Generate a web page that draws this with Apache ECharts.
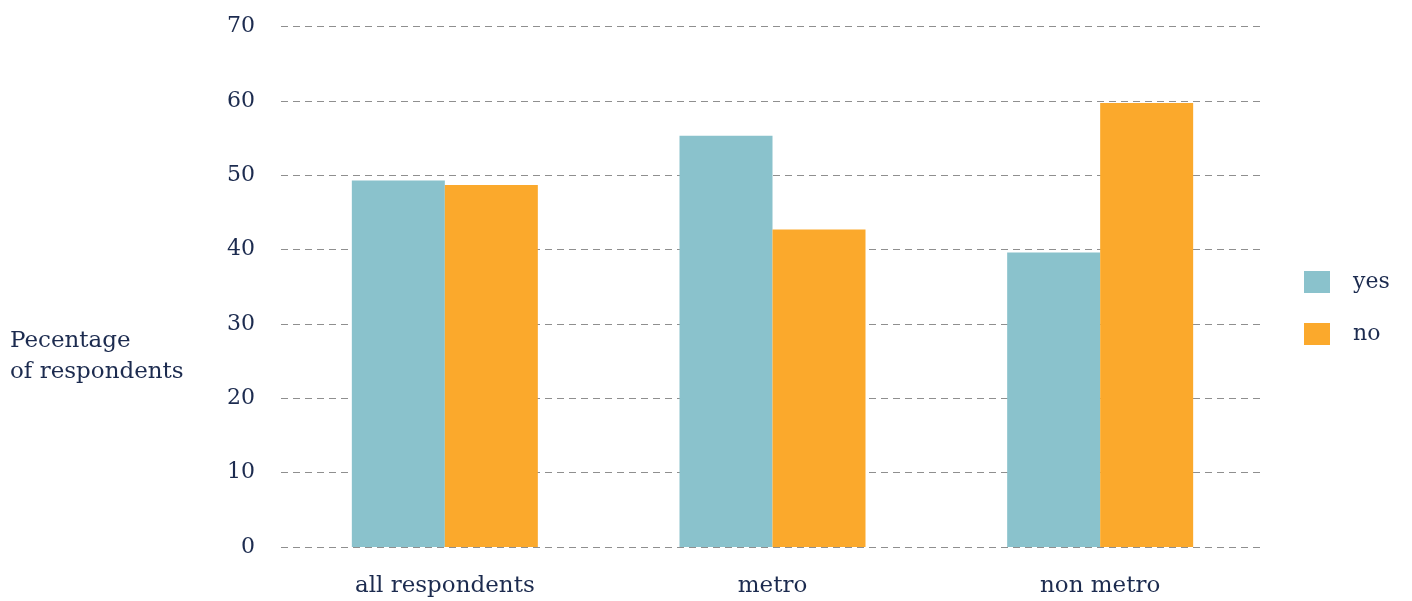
<!DOCTYPE html>
<html>
<head>
<meta charset="utf-8">
<script src="https://cdn.jsdelivr.net/npm/echarts@6/dist/echarts.min.js"></script>
<style>
html,body{margin:0;padding:0;background:#fff;}
#chart{width:1412px;height:601px;}
</style>
</head>
<body>
<div id="chart"></div>
<script>
const categories = ['all respondents', 'metro', 'non metro'];
const yesValues = [49.3, 55.3, 39.6];
const noValues = [48.7, 42.7, 59.7];
const seriesNames = ['yes', 'no'];
const axisTitle = 'Pecentage\nof respondents';

const textColor = '#1c2b4f';
const font = '"DejaVu Serif", serif';

const chart = echarts.init(document.getElementById('chart'));
chart.setOption({
  animation: false,
  backgroundColor: '#ffffff',
  grid: { left: 281, right: 148, top: 26.5, bottom: 54, containLabel: false },
  legend: {
    orient: 'vertical',
    left: 1299,
    top: 266,
    itemWidth: 26,
    itemHeight: 22,
    itemGap: 30,
    icon: 'rect',
    data: seriesNames,
    textStyle: { color: textColor, fontFamily: font, fontSize: 22, width: 44, align: 'center', padding: [0, 0, 0, 18] }
  },
  graphic: [{
    type: 'text',
    left: 10,
    top: 326,
    style: { text: axisTitle, fill: textColor, font: '23px ' + font, lineHeight: 31 }
  }],
  xAxis: {
    type: 'category',
    data: categories,
    axisLine: { show: false },
    axisTick: { show: false },
    axisLabel: { color: textColor, fontFamily: font, fontSize: 23, margin: 28 }
  },
  yAxis: {
    type: 'value',
    min: 0, max: 70, interval: 10,
    axisLine: { show: false },
    axisTick: { show: false },
    axisLabel: { color: textColor, fontFamily: font, fontSize: 22, margin: 26 },
    splitLine: { lineStyle: { color: '#8f8f8f', type: [7, 5], width: 1 } }
  },
  series: [
    { name: 'yes', type: 'bar', data: yesValues, barWidth: 93, barGap: '0%', itemStyle: { color: '#8ac2cc' } },
    { name: 'no', type: 'bar', data: noValues, barWidth: 93, barGap: '0%', itemStyle: { color: '#fba92c' } }
  ]
});
</script>
</body>
</html>
